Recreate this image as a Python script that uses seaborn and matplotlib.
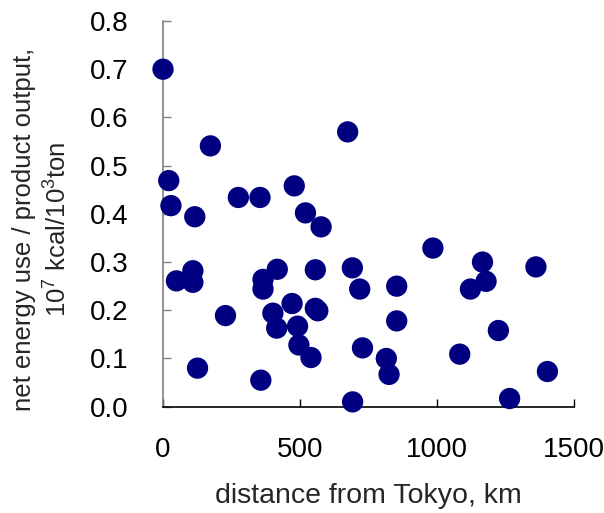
import matplotlib
matplotlib.use("Agg")
import matplotlib.pyplot as plt
import seaborn as sns
import pandas as pd

distance_km = [0, 21, 29, 49, 109, 109, 116, 126, 173, 228, 275, 354, 357, 365, 365,
               417, 401, 415, 471, 479, 491, 496, 520, 540, 556, 556, 565, 577, 674,
               691, 692, 718, 728, 815, 825, 853, 853, 985, 1083, 1122, 1166, 1179,
               1224, 1265, 1361, 1403]
energy_ratio = [0.700, 0.469, 0.417, 0.261, 0.282, 0.258, 0.394, 0.080, 0.541, 0.189,
                0.434, 0.434, 0.055, 0.264, 0.244, 0.285, 0.194, 0.163, 0.214, 0.458,
                0.167, 0.128, 0.402, 0.102, 0.284, 0.204, 0.199, 0.373, 0.570, 0.288,
                0.010, 0.244, 0.122, 0.100, 0.067, 0.250, 0.178, 0.329, 0.109, 0.244,
                0.300, 0.260, 0.158, 0.017, 0.290, 0.073]
x_ticks = [0, 500, 1000, 1500]
y_ticks = [0.0, 0.1, 0.2, 0.3, 0.4, 0.5, 0.6, 0.7, 0.8]
y_tick_labels = ["0.0", "0.1", "0.2", "0.3", "0.4", "0.5", "0.6", "0.7", "0.8"]
ylabel_lines = ["net energy use / product output,", "10$^7$ kcal/10$^3$ton"]

df = pd.DataFrame({"distance": distance_km, "ratio": energy_ratio})

sns.set_style("white")
plt.rcParams["font.family"] = ["Liberation Sans", "DejaVu Sans"]
plt.rcParams["mathtext.fontset"] = "custom"
plt.rcParams["mathtext.rm"] = "Liberation Sans"

fig = plt.figure(figsize=(6.04, 5.13), dpi=100)
ax = fig.add_axes([163 / 604, 1 - 406.7 / 513, (574 - 163) / 604, (406.7 - 21) / 513])

sns.scatterplot(data=df, x="distance", y="ratio", ax=ax, color="#000080",
                s=235, edgecolor="none", linewidth=0, clip_on=False, zorder=3)

ax.set_xlim(0, 1500)
ax.set_ylim(0, 0.8)
ax.set_xticks(x_ticks)
ax.set_xticklabels([str(t) for t in x_ticks])
ax.set_yticks(y_ticks)
ax.set_yticklabels(y_tick_labels)

for s in ["top", "right"]:
    ax.spines[s].set_visible(False)
ax.spines["left"].set_color("#808080")
ax.spines["left"].set_linewidth(1.2)
ax.spines["bottom"].set_color("#000000")
ax.spines["bottom"].set_linewidth(1.2)

ax.tick_params(axis="y", direction="in", length=6, width=1.0, color="#808080",
               pad=25, labelsize=20, labelcolor="black", left=True)
ax.tick_params(axis="x", direction="in", length=6, width=1.0, color="black",
               pad=22, labelsize=20, labelcolor="black", bottom=True)

ax.set_xlabel("")
ax.set_ylabel("")
fig.text(368 / 604, 1 - 496 / 513, "distance from Tokyo, km", ha="center", va="center",
         fontsize=20.5)
fig.text(31 / 604, 1 - 229 / 513, ylabel_lines[0], rotation=90, rotation_mode="anchor",
         ha="center", va="baseline", fontsize=18.5)
fig.text(66 / 604, 1 - 229 / 513, ylabel_lines[1], rotation=90, rotation_mode="anchor",
         ha="center", va="baseline", fontsize=18.5)

fig.savefig("out.png", dpi=100)
